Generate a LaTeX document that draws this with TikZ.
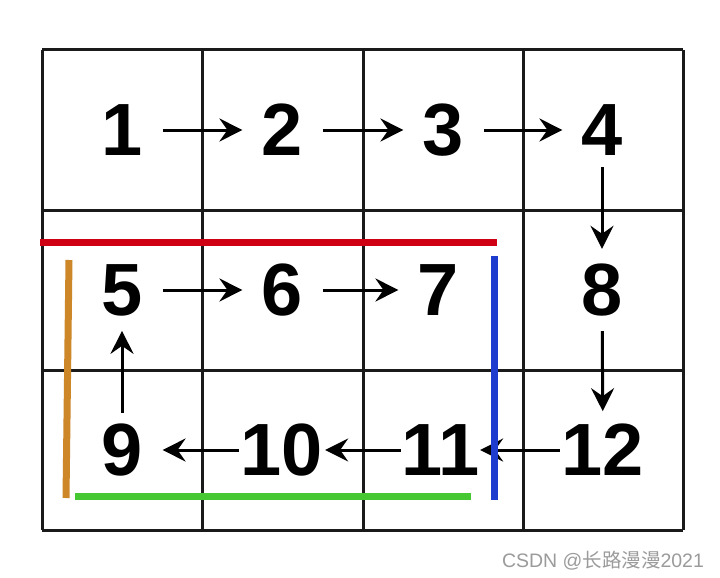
\documentclass[tikz,border=0pt]{standalone}
\usepackage{fontspec}
\setmainfont{Liberation Sans}
\newfontfamily\cjk{Noto Sans CJK SC}
\usetikzlibrary{arrows.meta}
\definecolor{gridc}{RGB}{26,26,26}
\definecolor{redl}{RGB}{208,0,20}
\definecolor{bluel}{RGB}{30,60,205}
\definecolor{greenl}{RGB}{70,200,50}
\definecolor{orangel}{RGB}{205,135,40}
\definecolor{wm}{RGB}{155,155,155}
\begin{document}
\begin{tikzpicture}[x=1pt,y=-1pt,
  num/.style={inner sep=0pt, outer sep=0pt, font=\fontsize{74}{74}\selectfont\bfseries},
  flow/.style={line width=3pt, -{Stealth[length=23pt,width=23pt,inset=8pt]}},
  gridline/.style={line width=3pt, draw=gridc},
  mark line/.style={line width=7pt}]
\useasboundingbox (0,0) rectangle (720,578);
\fill[white] (0,0) rectangle (720,578);
% grid
\foreach \x in {42,202,363,523,683} \draw[gridline] (\x,50) -- (\x,530);
\foreach \y in {50,210,370,530} \draw[gridline] (42,\y) -- (683,\y);
% numbers
\node[num] (n1) at (122,130) {1};
\node[num] (n2) at (282,130) {2};
\node[num] (n3) at (443,130) {3};
\node[num] (n4) at (602,130) {4};
\node[num] (n5) at (122,290) {5};
\node[num] (n6) at (282,290) {6};
\node[num] (n7) at (438,290) {7};
\node[num] (n8) at (602,290) {8};
\node[num] (n9) at (122,450) {9};
\node[num] (n10) at (282,450) {10};
\node[num] (n11) at (441,450) {11};
\node[num] (n12) at (603,450) {12};
% arrows
\draw[flow, shorten <=20pt, shorten >=19pt] (n1) -- (n2);
\draw[flow, shorten <=20pt, shorten >=19pt] (n2) -- (n3);
\draw[flow, shorten <=20pt, shorten >=19pt] (n3) -- (n4);
\draw[flow, shorten <=12pt, shorten >=15pt] (n4) -- (n8);
\draw[flow, shorten <=15pt, shorten >=13pt] (n8) -- (n12);
\draw[flow, shorten <=20pt, shorten >=19pt] (n5) -- (n6);
\draw[flow, shorten <=20pt, shorten >=19pt] (n6) -- (n7);
\draw[flow, shorten <=2pt, shorten >=0pt] (n12) -- (n11);
\draw[flow, shorten <=1pt, shorten >=2pt] (n11) -- (n10);
\draw[flow, shorten <=2pt, shorten >=20pt] (n10) -- (n9);
\draw[flow, shorten <=11pt, shorten >=15pt] (n9) -- (n5);
% coloured boundary lines
\draw[mark line, redl] (40,242) -- (497,242);
\draw[mark line, bluel] (494,256) -- (494,500);
\draw[mark line, greenl] (75,496) -- (471,496);
\draw[mark line, orangel] (69,260) -- (66,498);
% watermark
\node[text=wm, font=\fontsize{19.5}{19.5}\selectfont, inner sep=0pt] (wmark) at (603,561) {CSDN @{\cjk 长路漫漫}2021};
\end{tikzpicture}
\end{document}
